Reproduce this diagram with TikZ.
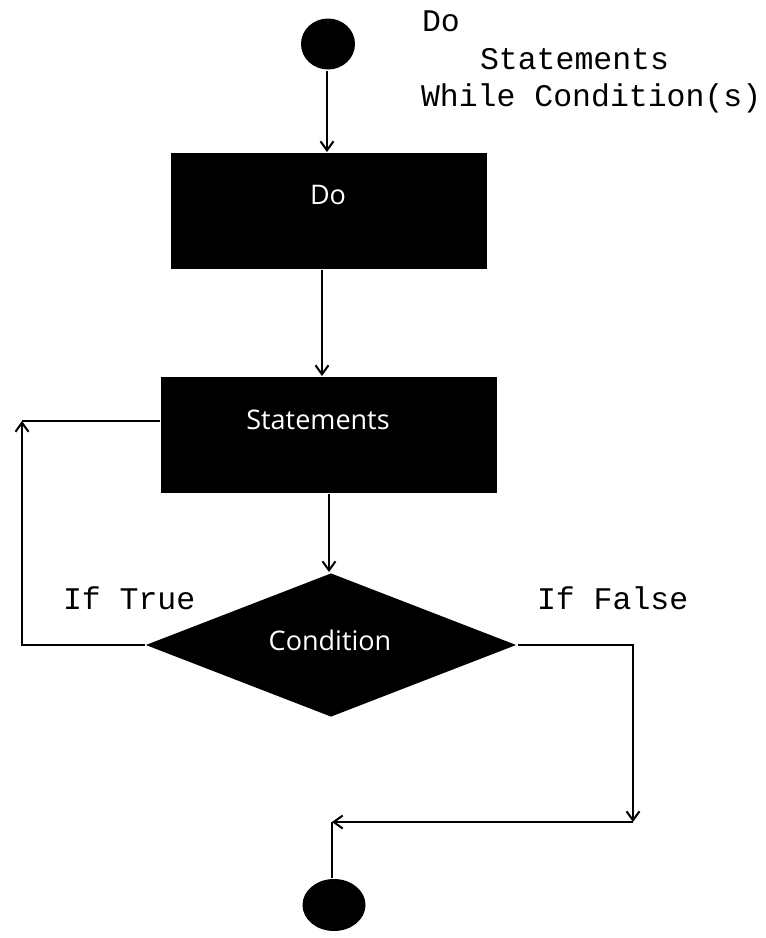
\documentclass[tikz,border=0pt]{standalone}
\usepackage{fontspec}
\setmainfont{Open Sans}
\newfontfamily\monofont{Liberation Mono}
\usetikzlibrary{arrows.meta,shapes.geometric}
\begin{document}
\begin{tikzpicture}[x=1pt,y=-1pt,
  line width=2pt,
  arr/.style={-{Straight Barb[length=9pt,width=13pt,line width=2pt]}},
  blk/.style={fill=black,draw=none,inner sep=0pt},
  boxtext/.style={text=white,font=\fontsize{27}{30}\selectfont,inner sep=0pt},
  mono/.style={font=\monofont\fontsize{31.5}{36}\selectfont,inner sep=0pt,anchor=base west}
]
\useasboundingbox[fill=white] (0,0) rectangle (766,938);
% start and end
\node[blk,ellipse,minimum width=54pt,minimum height=51pt] (start) at (328,44) {};
\node[blk,ellipse,minimum width=63pt,minimum height=52pt] (stop) at (334,905) {};
% boxes
\node[blk,rectangle,minimum width=316pt,minimum height=116pt] (do) at (329,211) {};
\node[boxtext] (dot) at (328,195) {Do};
\node[blk,rectangle,minimum width=336pt,minimum height=116pt] (stm) at (329,435) {};
\node[boxtext] (stmt) at (318,420) {Statements};
\node[blk,diamond,minimum width=371pt,minimum height=144pt,aspect=2.58] (cond) at (331,645) {};
\node[boxtext] (condt) at (330,640) {Condition};
% code text
\node[mono] (c1) at (421,31) {Do};
\node[mono] (c2) at (479,69) {Statements};
\node[mono] (c3) at (420,106) {While Condition(s)};
\node[mono] (lt) at (62,609) {If True};
\node[mono] (lf) at (536,609) {If False};
% connectors
\draw[arr] ([xshift=-1pt]start.south) -- ([xshift=-2pt]do.north);
\draw[arr] ([xshift=-7pt]do.south) -- ([xshift=-7pt]stm.north);
\draw[arr] (stm.south) -- (stm.south |- cond.north);
\coordinate (tl) at (22,421);
\coordinate (bl) at (22,645);
\coordinate (tr) at (633,645);
\coordinate (br) at (633,822);
\coordinate (bm) at (332,822);
\draw (stm.west |- tl) -- (tl);
\draw[arr] (cond.west) -- (bl) -- (tl);
\draw[arr] (cond.east) -- (tr) -- (br);
\draw[arr] (br) -- (bm);
\draw (bm) -- (stop.north -| bm);
\end{tikzpicture}
\end{document}
